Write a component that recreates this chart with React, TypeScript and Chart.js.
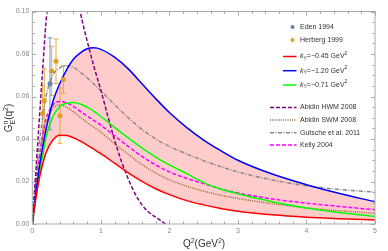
import React, { useEffect, useRef } from 'react';
import { Chart, registerables } from 'chart.js';
Chart.register(...registerables);

const FONT = '"Liberation Sans", Arial, sans-serif';

// Q^2 grid (GeV^2) shared by model curves
const Q2 = [0, 0.05, 0.1, 0.15, 0.2, 0.3, 0.4, 0.5, 0.6, 0.7, 0.8, 0.9, 1.0, 1.2, 1.4, 1.6, 1.8, 2.0, 2.25, 2.5, 2.75, 3.0, 3.5, 4.0, 4.5, 5.0];
const kY045 = [0, 0.0115, 0.021, 0.028, 0.0335, 0.0395, 0.0418, 0.0417, 0.0406, 0.039, 0.0371, 0.0351, 0.0331, 0.0286, 0.0241, 0.0201, 0.0166, 0.0138, 0.011, 0.009, 0.0073, 0.006, 0.0043, 0.0032, 0.0025, 0.0019];
const kY120 = [0, 0.014, 0.026, 0.036, 0.0445, 0.0575, 0.066, 0.0725, 0.0775, 0.0805, 0.0825, 0.0829, 0.0822, 0.0785, 0.073, 0.066, 0.059, 0.0525, 0.0455, 0.0395, 0.0345, 0.03, 0.0235, 0.0185, 0.0142, 0.0105];
const kY071 = [0, 0.012, 0.0225, 0.032, 0.041, 0.0505, 0.0552, 0.0568, 0.0572, 0.0565, 0.055, 0.053, 0.0506, 0.0455, 0.0405, 0.0358, 0.0315, 0.0278, 0.0238, 0.0195, 0.0165, 0.0142, 0.0105, 0.0075, 0.0053, 0.0036];
const gutsche = [0, 0.02, 0.037, 0.05, 0.06, 0.07, 0.0735, 0.0745, 0.0737, 0.0715, 0.0688, 0.0658, 0.0627, 0.0562, 0.05, 0.0445, 0.04, 0.0365, 0.033, 0.0298, 0.027, 0.0245, 0.0207, 0.018, 0.0162, 0.015];
const kelly = [0, 0.017, 0.031, 0.042, 0.0495, 0.056, 0.0577, 0.057, 0.0553, 0.053, 0.0508, 0.0487, 0.0465, 0.0415, 0.0365, 0.0318, 0.0278, 0.0245, 0.0215, 0.019, 0.0165, 0.0146, 0.0118, 0.0098, 0.0082, 0.0067];
const abidinSWM = [0, 0.016, 0.029, 0.04, 0.0475, 0.0545, 0.056, 0.055, 0.0528, 0.0502, 0.0478, 0.0455, 0.0432, 0.0378, 0.0328, 0.028, 0.024, 0.0208, 0.0178, 0.0155, 0.0135, 0.012, 0.0096, 0.0076, 0.0062, 0.005];

const hwmQ2 = [0, 0.05, 0.1, 0.15, 0.2, 0.3, 0.4, 0.5, 0.6, 0.7, 0.8, 0.9, 1.0, 1.1, 1.2, 1.3, 1.4, 1.5, 1.6, 1.7, 1.8, 1.9, 2.0];
const abidinHWM = [0, 0.024, 0.048, 0.072, 0.095, 0.125, 0.138, 0.136, 0.12, 0.1, 0.0862, 0.074, 0.063, 0.051, 0.0395, 0.0295, 0.0212, 0.0142, 0.009, 0.0055, 0.0032, 0.001, -0.0015];

// experimental data
const edenQ2 = [0.258];
const edenG = [0.066];
const edenErr = [0.0216];
const herbergQ2 = [0.152, 0.175, 0.283, 0.346, 0.404, 0.453];
const herbergG = [0.052, 0.058, 0.072, 0.0766, 0.051, 0.068];
const herbergErr = [0.013, 0.015, 0.0116, 0.0105, 0.013, 0.0065];

const xTicks = [0, 1, 2, 3, 4, 5];
const yTicks = [0, 0.02, 0.04, 0.06, 0.08, 0.1];

const C = {
  eden: '#5E81B5', herberg: '#E19C24', red: '#ff0000', blue: '#0000ff', green: '#00ff00',
  purple: '#800080', brown: '#996633', gray: '#888888', magenta: '#ff00ff', fill: '#ffcccc',
};

const pts = (xs: number[], ys: number[]) => xs.map((x, i) => ({ x, y: ys[i] }));

type Seg = { t: string; f: string; dy: number; adv?: boolean };
const richWidth = (ctx: CanvasRenderingContext2D, segs: Seg[]) =>
  segs.reduce((w, s) => { ctx.font = s.f; return w + (s.adv === false ? 0 : ctx.measureText(s.t).width); }, 0);
const drawRich = (ctx: CanvasRenderingContext2D, segs: Seg[], x: number, y: number) => {
  let cx = x;
  for (const s of segs) {
    ctx.font = s.f;
    ctx.fillText(s.t, cx, y + s.dy);
    if (s.adv !== false) cx += ctx.measureText(s.t).width;
  }
};

const f = (size: number, style = '') => `${style} ${size}px ${FONT}`.trim();
const kSegs = (v: string): Seg[] => [
  { t: 'k', f: f(7, 'italic'), dy: 0 },
  { t: 'Y', f: f(5), dy: 2 },
  { t: `=\u2212${v} GeV`, f: f(7), dy: 0 },
  { t: '2', f: f(5), dy: -3 },
];

type Entry = { kind: 'pt' | 'line'; color: string; dash: number[]; segs: Seg[]; y: number; x0: number };
const legendEntries: Entry[] = [
  { kind: 'pt', color: C.eden, dash: [], segs: [{ t: 'Eden 1994', f: f(7), dy: 0 }], y: 27, x0: 0 },
  { kind: 'pt', color: C.herberg, dash: [], segs: [{ t: 'Herberg 1999', f: f(7), dy: 0 }], y: 40, x0: 0 },
  { kind: 'line', color: C.red, dash: [], segs: kSegs('0.45'), y: 56.5, x0: 283 },
  { kind: 'line', color: C.blue, dash: [], segs: kSegs('1.20'), y: 70.7, x0: 283 },
  { kind: 'line', color: C.green, dash: [], segs: kSegs('0.71'), y: 85, x0: 283 },
  { kind: 'line', color: C.purple, dash: [4, 2], segs: [{ t: 'Abidin HWM 2008', f: f(7), dy: 0 }], y: 107.5, x0: 270 },
  { kind: 'line', color: C.brown, dash: [1, 1.2], segs: [{ t: 'Abidin SWM 2008', f: f(7), dy: 0 }], y: 120, x0: 270 },
  { kind: 'line', color: C.gray, dash: [4, 1.5, 1, 1.5], segs: [{ t: 'Gutsche et al. 2011', f: f(7), dy: 0 }], y: 132.7, x0: 270 },
  { kind: 'line', color: C.magenta, dash: [4, 2], segs: [{ t: 'Kelly 2004', f: f(7), dy: 0 }], y: 145, x0: 270 },
];

const errorBars = {
  id: 'errorBars',
  beforeDatasetsDraw(chart: any) {
    const { ctx } = chart;
    const xs = chart.scales.x, ys = chart.scales.y;
    const sets = [
      { q: edenQ2, g: edenG, e: edenErr, c: C.eden },
      { q: herbergQ2, g: herbergG, e: herbergErr, c: C.herberg },
    ];
    ctx.save();
    ctx.lineWidth = 1;
    for (const s of sets) {
      ctx.strokeStyle = s.c;
      ctx.globalAlpha = 0.85;
      s.q.forEach((q, i) => {
        const px = xs.getPixelForValue(q);
        const y1 = ys.getPixelForValue(s.g[i] - s.e[i]);
        const y2 = ys.getPixelForValue(s.g[i] + s.e[i]);
        ctx.beginPath();
        ctx.moveTo(px, y1); ctx.lineTo(px, y2);
        ctx.moveTo(px - 2.5, y1); ctx.lineTo(px + 2.5, y1);
        ctx.moveTo(px - 2.5, y2); ctx.lineTo(px + 2.5, y2);
        ctx.stroke();
      });
    }
    ctx.restore();
  },
};

const frame = {
  id: 'frame',
  afterDatasetsDraw(chart: any) {
    const { ctx, chartArea: a } = chart;
    const xs = chart.scales.x, ys = chart.scales.y;
    ctx.save();
    ctx.strokeStyle = '#aaaaaa';
    ctx.lineWidth = 1;
    ctx.strokeRect(a.left, a.top, a.right - a.left, a.bottom - a.top);
    ctx.beginPath();
    for (let i = 0; i <= 25; i++) {
      const v = i * 0.2;
      const px = Math.round(xs.getPixelForValue(v)) + 0.5;
      const len = i % 5 === 0 ? 4 : 2.5;
      ctx.moveTo(px, a.bottom); ctx.lineTo(px, a.bottom - len);
      ctx.moveTo(px, a.top); ctx.lineTo(px, a.top + len);
    }
    for (let i = 0; i <= 20; i++) {
      const v = i * 0.005;
      const py = Math.round(ys.getPixelForValue(v)) + 0.5;
      const len = i % 4 === 0 ? 4 : 2.5;
      ctx.moveTo(a.left, py); ctx.lineTo(a.left + len, py);
      ctx.moveTo(a.right, py); ctx.lineTo(a.right - len, py);
    }
    ctx.stroke();
    ctx.restore();
  },
  afterDraw(chart: any) {
    const { ctx } = chart;
    ctx.save();
    ctx.fillStyle = '#333333';
    ctx.textBaseline = 'alphabetic';
    // x title
    const xt: Seg[] = [
      { t: 'Q', f: f(10), dy: 0 }, { t: '2', f: f(7), dy: -4 },
      { t: '(GeV', f: f(10), dy: 0 }, { t: '2', f: f(7), dy: -4 }, { t: ')', f: f(10), dy: 0 },
    ];
    drawRich(ctx, xt, 204 - richWidth(ctx, xt) / 2, 247);
    // y title
    const yt: Seg[] = [
      { t: 'G', f: f(10), dy: 0 }, { t: 'n', f: f(7), dy: -4, adv: false }, { t: 'E', f: f(7), dy: 2.5 },
      { t: '(q', f: f(10), dy: 0 }, { t: '2', f: f(7), dy: -4 }, { t: ')', f: f(10), dy: 0 },
    ];
    ctx.translate(12, 118);
    ctx.rotate(-Math.PI / 2);
    drawRich(ctx, yt, -richWidth(ctx, yt) / 2, 0);
    ctx.restore();

    // legend
    ctx.save();
    ctx.textBaseline = 'middle';
    for (const e of legendEntries) {
      if (e.kind === 'pt') {
        ctx.fillStyle = e.color;
        ctx.beginPath();
        ctx.arc(292.5, e.y, 2, 0, Math.PI * 2);
        ctx.fill();
      } else {
        ctx.strokeStyle = e.color;
        ctx.lineWidth = 1.5;
        ctx.setLineDash(e.dash);
        ctx.beginPath();
        ctx.moveTo(e.x0, e.y); ctx.lineTo(296.5, e.y);
        ctx.stroke();
        ctx.setLineDash([]);
      }
      ctx.fillStyle = '#333333';
      drawRich(ctx, e.segs, 300, e.y);
    }
    ctx.restore();
  },
};

export default function App() {
  const ref = useRef<HTMLCanvasElement>(null);
  useEffect(() => {
    const canvas = ref.current!;
    const lineDs = (label: string, xs: number[], ys: number[], color: string, dash: number[], extra: any = {}) => ({
      type: 'line', label, data: pts(xs, ys), borderColor: color, borderWidth: 1.5, borderDash: dash,
      pointRadius: 0, cubicInterpolationMode: 'monotone', fill: false, order: 1, ...extra,
    });
    const chart = new Chart(canvas, {
      type: 'line',
      data: {
        datasets: [
          { type: 'line', label: 'Eden 1994', data: pts(edenQ2, edenG), showLine: false, pointRadius: 2.5, pointBackgroundColor: C.eden, pointBorderWidth: 0, order: 0 },
          { type: 'line', label: 'Herberg 1999', data: pts(herbergQ2, herbergG), showLine: false, pointRadius: 2.5, pointBackgroundColor: C.herberg, pointBorderWidth: 0, order: 0 },
          lineDs('kY=-0.45', Q2, kY045, C.red, []),
          lineDs('kY=-1.20', Q2, kY120, C.blue, [], { fill: { target: 2 }, backgroundColor: C.fill }),
          lineDs('kY=-0.71', Q2, kY071, C.green, []),
          lineDs('Abidin HWM 2008', hwmQ2, abidinHWM, C.purple, [4, 2]),
          lineDs('Abidin SWM 2008', Q2, abidinSWM, C.brown, [1, 1.2]),
          lineDs('Gutsche et al. 2011', Q2, gutsche, C.gray, [4, 1.5, 1, 1.5]),
          lineDs('Kelly 2004', Q2, kelly, C.magenta, [4, 2]),
        ] as any,
      },
      options: {
        animation: false,
        responsive: false,
        devicePixelRatio: 1,
        layout: { padding: { left: 0, right: 13, top: 11.5, bottom: 0 } },
        plugins: {
          legend: { display: false },
          tooltip: { enabled: false },
          filler: { drawTime: 'beforeDatasetsDraw' },
        } as any,
        scales: {
          x: {
            type: 'linear', min: 0, max: 5,
            afterFit: (s: any) => { s.height = 27; },
            afterBuildTicks: (s: any) => { s.ticks = xTicks.map((v) => ({ value: v })); },
            grid: { display: false, drawTicks: false },
            border: { display: false },
            ticks: { font: { family: FONT, size: 7 }, color: '#888888', padding: 3, maxRotation: 0, autoSkip: false },
          },
          y: {
            type: 'linear', min: 0, max: 0.1,
            afterFit: (s: any) => { s.width = 32.3; },
            afterBuildTicks: (s: any) => { s.ticks = yTicks.map((v) => ({ value: v })); },
            grid: { display: false, drawTicks: false },
            border: { display: false },
            ticks: { font: { family: FONT, size: 7 }, color: '#888888', padding: 3, callback: (v: any) => Number(v).toFixed(2) },
          },
        } as any,
      },
      plugins: [errorBars, frame],
    });
    return () => chart.destroy();
  }, []);
  return (
    <div style={{ position: 'absolute', left: 0, top: 0, width: 388, height: 251 }}>
      <canvas ref={ref} width={388} height={251} style={{ width: 388, height: 251, display: 'block' }} />
    </div>
  );
}
